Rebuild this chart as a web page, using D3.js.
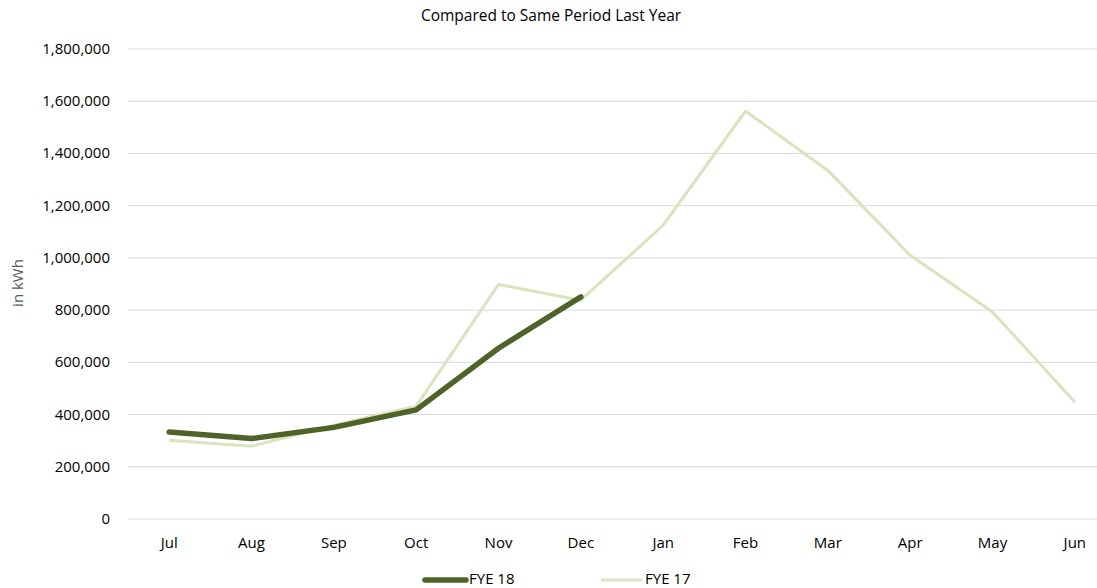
<!DOCTYPE html>
<html>
<head>
<meta charset="utf-8">
<script src="https://cdn.jsdelivr.net/npm/d3@7"></script>
<style>
  body { margin: 0; background: #fff; }
  svg { display: block; font-family: "Open Sans", "Liberation Sans", sans-serif; }
</style>
</head>
<body>
<svg id="chart" width="1097" height="588"></svg>
<script>
  // data
  const months = ['Jul', 'Aug', 'Sep', 'Oct', 'Nov', 'Dec', 'Jan', 'Feb', 'Mar', 'Apr', 'May', 'Jun']
  const fye18 = [333000, 308000, 351000, 418000, 654000, 851000]
  const fye17 = [302000, 279000, 359000, 432000, 898000, 838000, 1125000, 1562000, 1335000, 1010000, 793000, 448000]
  const yTicks = [0, 200000, 400000, 600000, 800000, 1000000, 1200000, 1400000, 1600000, 1800000]

  ;(function () {
    const svg = d3.select('#chart')
    const pLeft = 128, pRight = 1116, pTop = 49, pBottom = 519

    const x = d3.scaleBand().domain(months).range([pLeft, pRight])
    const y = d3.scaleLinear().domain([0, 1800000]).range([pBottom, pTop])
    const cx = m => x(m) + x.bandwidth() / 2

    // title
    svg.append('text')
      .attr('x', 551).attr('y', 21)
      .attr('text-anchor', 'middle')
      .style('font-size', '15.5px').style('fill', '#000')
      .text('Compared to Same Period Last Year')

    // gridlines
    svg.append('g').selectAll('line')
      .data(yTicks).enter().append('line')
      .attr('x1', pLeft).attr('x2', pRight)
      .attr('y1', d => y(d)).attr('y2', d => y(d))
      .style('stroke', '#d9d9d9').style('stroke-width', 1)

    // y tick labels
    const fmt = d3.format(',')
    svg.append('g').selectAll('text')
      .data(yTicks).enter().append('text')
      .attr('x', 110).attr('y', d => y(d) + 5)
      .attr('text-anchor', 'end')
      .style('font-size', '15px').style('fill', '#000')
      .text(d => fmt(d))

    // x labels
    svg.append('g').selectAll('text')
      .data(months).enter().append('text')
      .attr('x', d => cx(d)).attr('y', 548)
      .attr('text-anchor', 'middle')
      .style('font-size', '15px').style('fill', '#000')
      .text(d => d)

    // y axis title
    svg.append('text')
      .attr('transform', 'translate(23,283) rotate(-90)')
      .attr('text-anchor', 'middle')
      .style('font-size', '15px').style('fill', '#595959')
      .text('in kWh')

    const line = d3.line()
      .x((d, i) => cx(months[i]))
      .y(d => y(d))

    svg.append('path')
      .datum(fye17)
      .attr('d', line)
      .style('fill', 'none').style('stroke', '#d7e4bd')
      .style('stroke-width', 3).style('stroke-linejoin', 'round')

    svg.append('path')
      .datum(fye18)
      .attr('d', line)
      .style('fill', 'none').style('stroke', '#4f6228')
      .style('stroke-width', 5.5).style('stroke-linejoin', 'round').style('stroke-linecap', 'round')

    // legend
    const legend = svg.append('g')
    legend.append('line')
      .attr('x1', 425).attr('x2', 466).attr('y1', 580).attr('y2', 580)
      .style('stroke', '#4f6228').style('stroke-width', 5.5).style('stroke-linecap', 'round')
    legend.append('text')
      .attr('x', 469).attr('y', 584)
      .style('font-size', '15px').style('fill', '#000')
      .text('FYE 18')
    legend.append('line')
      .attr('x1', 601).attr('x2', 642).attr('y1', 580).attr('y2', 580)
      .style('stroke', '#d7e4bd').style('stroke-width', 3)
    legend.append('text')
      .attr('x', 645).attr('y', 584)
      .style('font-size', '15px').style('fill', '#000')
      .text('FYE 17')
  })()
</script>
</body>
</html>
